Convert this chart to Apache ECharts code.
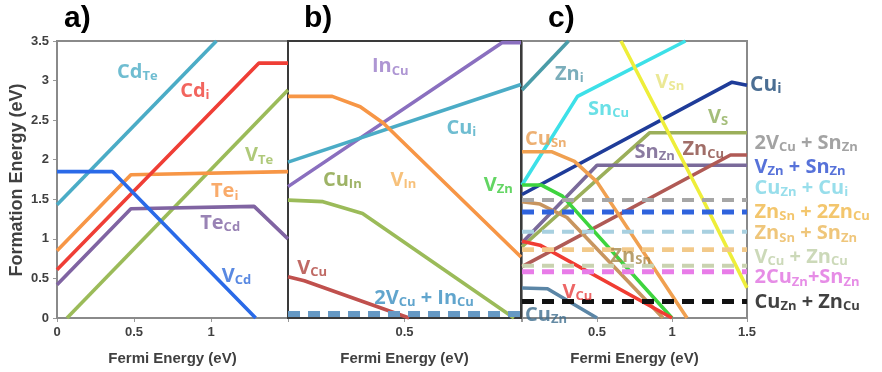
<!DOCTYPE html>
<html><head><meta charset="utf-8">
<script src="https://cdn.jsdelivr.net/npm/echarts@6/dist/echarts.min.js"></script>
<style>html,body{margin:0;padding:0;background:#fff}#c{width:882px;height:372px}</style>
</head><body><div id="c"></div>
<script>
// ---------- tick labels / axes ----------
const yTicks = [0, 0.5, 1, 1.5, 2, 2.5, 3, 3.5];
const xRangeA = [0, 1.5], xRangeB = [0, 1.0], xRangeC = [0, 1.5];
const xLabelsA = ['0', '0.5', '1'];
const xLabelsB = ['0.5'];
const xLabelsC = ['0.5', '1', '1.5'];

// ---------- panel a (CdTe) : [Fermi energy, formation energy] ----------
const a_CdTe = [[0, 1.43], [1.035, 3.5]];
const a_Cdi  = [[0, 0.61], [1.31, 3.22], [1.5, 3.22]];
const a_VTe  = [[0.065, 0], [1.5, 2.88]];
const a_Tei  = [[0, 0.85], [0.48, 1.81], [1.5, 1.85]];
const a_TeCd = [[0, 0.42], [0.48, 1.38], [1.28, 1.41], [1.5, 1.0]];
const a_VCd  = [[0, 1.85], [0.36, 1.85], [1.29, 0]];

// ---------- panel b (CuInSe2) ----------
const b_InCu = [[0, 1.66], [0.92, 3.48], [1.0, 3.48]];
const b_Cui  = [[0, 1.97], [1.0, 2.95]];
const b_VIn  = [[0, 2.80], [0.19, 2.80], [0.31, 2.67], [0.41, 2.46], [1.0, 0.77]];
const b_CuIn = [[0, 1.49], [0.15, 1.47], [0.32, 1.32], [0.97, 0]];
const b_VCu  = [[0, 0.52], [0.07, 0.47], [0.52, 0]];
const b_2VCuInCu = [[0, 0.05], [1.0, 0.05]];

// ---------- panel c (CZTS) ----------
const c_Zni  = [[0, 2.88], [0.31, 3.5]];
const c_SnCu = [[0, 1.68], [0.37, 2.80], [1.09, 3.5]];
const c_VSn  = [[0.66, 3.5], [1.2, 1.52], [1.5, 0.38]];
const c_Cui  = [[0, 1.56], [1.40, 2.98], [1.5, 2.94]];
const c_VS   = [[0, 0.90], [0.85, 2.34], [1.5, 2.34]];
const c_SnZn = [[0, 0.95], [0.5, 1.93], [1.5, 1.93]];
const c_ZnCu = [[0, 0.65], [1.39, 2.06], [1.5, 2.06]];
const c_CuSn = [[0, 2.10], [0.2, 2.10], [0.35, 1.98], [0.5, 1.72], [1.1, 0]];
const c_VZn  = [[0, 1.68], [0.13, 1.68], [0.27, 1.54], [1.0, 0]];
const c_ZnSn = [[0, 1.47], [0.12, 1.44], [0.3, 1.27], [0.94, 0]];
const c_VCu  = [[0, 0.97], [0.12, 0.92], [1.0, 0]];
const c_CuZn = [[0, 0.38], [0.17, 0.37], [0.5, 0]];
// defect complexes (flat dashed levels)
const complexNames  = ['2V_{Cu} + Sn_{Zn}', 'V_{Zn} + Sn_{Zn}', 'Cu_{Zn} + Cu_{i}', 'Zn_{Sn} + 2Zn_{Cu}',
                       'Zn_{Sn} + Sn_{Zn}', 'V_{Cu} + Zn_{Cu}', '2Cu_{Zn}+Sn_{Zn}', 'Cu_{Zn} + Zn_{Cu}'];
const complexLevels = [1.49, 1.34, 1.09, 0.87, 0.86, 0.66, 0.585, 0.21];

// ---------- label anchors (data coords) ----------
const labelsA = [
  ['Cd_{Te}', 0.39, 3.11, '#4BACC6'], ['Cd_{i}', 0.80, 2.87, '#EF3E36'], ['V_{Te}', 1.22, 2.05, '#9BBB59'],
  ['Te_{i}', 1.00, 1.60, '#F79646'], ['Te_{Cd}', 0.93, 1.20, '#8064A2'], ['V_{Cd}', 1.07, 0.53, '#2F6BDB']];
const labelsB = [
  ['In_{Cu}', 0.36, 3.18, '#9A7CC8'], ['Cu_{i}', 0.68, 2.40, '#4BACC6'], ['Cu_{In}', 0.15, 1.74, '#86A040'],
  ['V_{In}', 0.44, 1.74, '#F5B25A'], ['V_{Cu}', 0.04, 0.63, '#B0453F'], ['2V_{Cu} + In_{Cu}', 0.37, 0.25, '#3A8FC0'],
  ['V_{Zn}', 0.84, 1.68, '#3CCB3C']];
const labelsC = [
  ['Zn_{i}', 0.22, 3.08, '#5A9AAA'], ['Sn_{Cu}', 0.44, 2.64, '#45D8E0'], ['V_{Sn}', 0.89, 2.98, '#E6E27A'],
  ['V_{S}', 1.24, 2.54, '#8FAE5A'], ['Cu_{Sn}', 0.02, 2.26, '#E89C50'], ['Sn_{Zn}', 0.75, 2.10, '#6E5A8A'],
  ['Zn_{Cu}', 1.07, 2.13, '#8A4A42'], ['Zn_{Sn}', 0.59, 0.78, '#A8884A'], ['V_{Cu}', 0.27, 0.33, '#E84040'],
  ['Cu_{Zn}', 0.02, 0.04, '#3E6E8E']];
const labelCui = [['Cu_{i}', 1.52, 2.95, '#1E4A78']];
const legendY = [2.21, 1.91, 1.64, 1.34, 1.07, 0.77, 0.51, 0.20];
const legendColors = ['#8C8C8C', '#2D4FD0', '#7ED6E6', '#F0B848', '#EBB85A', '#BFD0A8', '#E070E0', '#111111'];
const complexColors = ['#A6A6A6', '#2F63DD', '#A8D0E0', '#F5CB8E', '#F2C98A', '#C9D2B0', '#E87CE8', '#111111'];
const complexWidths = [4, 5, 4, 4, 4, 4, 5, 5];

const FONT = 'Open Sans';
function richFmt(s) {
  const parts = s.split(/(_\{[^}]*\})/).filter(p => p.length);
  return parts.map(p => p.startsWith('_{') ? '{s|' + p.slice(2, -1) + '}' : '{m|' + p + '}').join('');
}
const richStyle = (size, sub) => ({
  m: {fontSize: size, fontWeight: 'bold', fontFamily: FONT, lineHeight: size + 2},
  s: {fontSize: sub, fontWeight: 'bold', fontFamily: FONT, lineHeight: sub, verticalAlign: 'bottom'}
});

function lineSeries(g, data, color, width, dash) {
  return {type: 'line', xAxisIndex: g, yAxisIndex: g, data: data, symbol: 'none', silent: true,
    lineStyle: {color: color, width: width || 3.6, type: dash ? [12, 8] : 'solid', cap: 'butt'}, z: dash ? 4 : 3};
}
function labelSeries(g, list, size, sub) {
  return {type: 'scatter', xAxisIndex: g, yAxisIndex: g, symbolSize: 0, silent: true, clip: false, z: 10,
    data: list.map(l => ({value: [l[1], l[2]],
      label: {show: true, position: 'right', distance: 0, formatter: richFmt(l[0]), color: l[3],
              rich: richStyle(size, sub)}}))};
}

const series = [
  lineSeries(0, a_CdTe, '#4BACC6'), lineSeries(0, a_VTe, '#9BBB59'), lineSeries(0, a_Tei, '#F79646'),
  lineSeries(0, a_TeCd, '#8064A2'), lineSeries(0, a_Cdi, '#EF3E36'), lineSeries(0, a_VCd, '#2A6AE8'),
  lineSeries(1, b_InCu, '#8A6FBF'), lineSeries(1, b_Cui, '#4BACC6'), lineSeries(1, b_VIn, '#F79646'),
  lineSeries(1, b_CuIn, '#9BBB59'), lineSeries(1, b_VCu, '#C0504D'), lineSeries(1, b_2VCuInCu, '#6699C4', 6, true),
  lineSeries(2, c_Zni, '#4A9CA8'), lineSeries(2, c_SnCu, '#3DE0E8'), lineSeries(2, c_Cui, '#1F3C99'),
  lineSeries(2, c_VS, '#9BAF5A'), lineSeries(2, c_SnZn, '#7A6A9A'), lineSeries(2, c_ZnCu, '#B05A55'),
  lineSeries(2, c_CuSn, '#F0A050'), lineSeries(2, c_ZnSn, '#C8955F'), lineSeries(2, c_VZn, '#3ED43E'),
  lineSeries(2, c_VCu, '#F03C32'), lineSeries(2, c_CuZn, '#5B86A6'), lineSeries(2, c_VSn, '#EEEE3A'),
];
complexLevels.forEach((v, i) => series.push(lineSeries(2, [[0, v], [1.5, v]], complexColors[i], complexWidths[i], true)));
series.push(labelSeries(0, labelsA, 20, 13), labelSeries(1, labelsB, 20, 13), labelSeries(2, labelsC, 20, 13));
series.push(labelSeries(2, labelCui, 21, 14));
series.push(labelSeries(2, complexNames.map((n, i) => [n, 1.55, legendY[i], legendColors[i]]), 20, 13));

const tickLbl = {fontSize: 13, fontWeight: 'bold', fontFamily: 'Liberation Sans', color: '#404040'};
function xAx(g, r, shown) {
  return {type: 'value', gridIndex: g, min: r[0], max: r[1], interval: 0.5,
    name: 'Fermi Energy (eV)', nameLocation: 'middle', nameGap: 33,
    nameTextStyle: {fontSize: 15, fontWeight: 'bold', fontFamily: 'Liberation Sans', color: '#404040'},
    axisLine: {show: false}, axisTick: {show: true, length: 4, lineStyle: {color: '#999'}},
    axisLabel: Object.assign({margin: 8, formatter: v => shown.indexOf(String(v)) >= 0 ? String(v) : ''}, tickLbl),
    splitLine: {show: false}};
}
function yAx(g, show) {
  return {type: 'value', gridIndex: g, min: 0, max: 3.5, interval: 0.5,
    axisLine: {show: false}, axisTick: {show: show, length: 4, lineStyle: {color: '#999'}},
    axisLabel: Object.assign({show: show, margin: 8, formatter: v => yTicks.indexOf(v) >= 0 ? String(v) : ''}, tickLbl),
    splitLine: {show: false}};
}

const chart = echarts.init(document.getElementById('c'), null, {renderer: 'canvas'});
chart.setOption({
  animation: false,
  backgroundColor: '#fff',
  grid: [
    {left: 57, top: 41, width: 231, height: 277, show: true, borderColor: '#8a8a8a', borderWidth: 2, z: 1},
    {left: 288, top: 41, width: 233, height: 277, show: true, borderColor: '#3a3a3a', borderWidth: 2, z: 2},
    {left: 522, top: 41, width: 225, height: 277, show: true, borderColor: '#8a8a8a', borderWidth: 2, z: 1}
  ],
  xAxis: [xAx(0, xRangeA, xLabelsA), xAx(1, xRangeB, xLabelsB), xAx(2, xRangeC, xLabelsC)],
  yAxis: [yAx(0, true), yAx(1, false), yAx(2, false)],
  graphic: [
    {type: 'text', left: 64, top: 4, style: {text: 'a)', font: 'bold 30px "Liberation Sans"', fill: '#000'}},
    {type: 'text', left: 304, top: 4, style: {text: 'b)', font: 'bold 30px "Liberation Sans"', fill: '#000'}},
    {type: 'text', left: 548, top: 4, style: {text: 'c)', font: 'bold 30px "Liberation Sans"', fill: '#000'}},
    {type: 'text', x: 17, y: 180, rotation: Math.PI / 2,
     style: {text: 'Formation Energy (eV)', font: 'bold 18px "Liberation Sans"', fill: '#404040', align: 'center', verticalAlign: 'middle'}}
  ],
  series: series
});
</script></body></html>
